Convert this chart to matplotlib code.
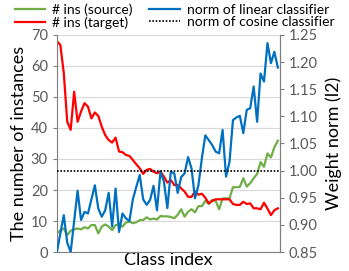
import numpy as np
import matplotlib.pyplot as plt

# per-class counts (left axis) and classifier norms (right axis)
ins_source = [6.0, 7.0, 7.6, 5.5, 6.9, 7.3, 7.6, 7.3, 8.0, 7.6, 8.7, 8.7, 6.0, 8.2, 8.9, 8.2,
              7.1, 8.7, 8.9, 8.2, 9.5, 9.8, 9.3, 9.6, 10.3, 10.3, 11.2, 10.5, 10.8, 10.5, 11.6,
              11.5, 11.5, 11.3, 10.9, 12.0, 13.8, 11.4, 13.0, 13.8, 12.8, 14.8, 14.8, 16.5, 15.5,
              16.8, 16.5, 13.8, 17.3, 17.3, 17.3, 20.9, 20.9, 21.0, 23.8, 21.1, 22.2, 23.8, 25.2,
              29.0, 27.5, 31.8, 30.5, 33.8, 35.9]
ins_target = [68, 66.8, 57.7, 42, 39.4, 51.7, 42, 45.3, 48, 46.9, 43.1, 45, 43.9, 40.4, 37.7,
              36.1, 35.3, 36.9, 32.4, 32.2, 31.3, 31, 29.7, 28.3, 27, 25.2, 26.5, 26.8, 25.9,
              25.4, 26, 24.3, 22.4, 23.2, 21.6, 21.6, 20.5, 19.5, 17.8, 17.8, 19.5, 18.5, 18.8,
              17.5, 15.7, 16.5, 17, 17, 17, 17, 17, 15.5, 15.2, 15.2, 16.2, 15.5, 15.7, 14.1,
              14.1, 13.8, 15.9, 14, 11.9, 13.5, 14.1]
norm_linear = [0.850, 0.884, 0.918, 0.867, 0.850, 0.907, 0.963, 0.909, 0.924, 0.921, 0.947,
               0.973, 0.930, 0.915, 0.927, 0.959, 0.897, 0.967, 0.887, 0.921, 0.912, 0.907,
               0.947, 0.970, 0.992, 0.947, 0.937, 0.946, 0.972, 0.927, 0.998, 0.980, 0.931,
               0.998, 0.995, 0.959, 0.988, 0.995, 1.025, 1.004, 0.949, 0.973, 1.023, 1.065,
               1.056, 1.047, 1.035, 1.032, 1.075, 0.989, 1.016, 1.093, 1.098, 1.101, 1.069,
               1.112, 1.115, 1.155, 1.090, 1.179, 1.164, 1.235, 1.198, 1.219, 1.190]
norm_cosine = 1.0

class_idx = np.arange(len(ins_source))

plt.rcParams['font.family'] = ['Lato', 'DejaVu Sans']

fig = plt.figure(figsize=(3.49, 2.71), dpi=100)
ax = fig.add_axes([0.163, 0.07, 0.639, 0.801])
ax2 = ax.twinx()

grey = '#595959'
l1, = ax.plot(class_idx, ins_source, color='#70AD47', lw=1.6, label='# ins (source)')
l2, = ax.plot(class_idx, ins_target, color='#FF0000', lw=1.6, label='# ins (target)')
l3, = ax2.plot(class_idx, norm_linear, color='#0070C0', lw=1.6, label='norm of linear classifier')
l4 = ax2.axhline(norm_cosine, color='black', lw=1.2, ls=(0, (1, 1)), label='norm of cosine classifier')

ax.set_xlim(0, len(class_idx) - 0.4)
ax.set_ylim(0, 70)
ax.set_yticks(range(0, 71, 10))
ax2.set_ylim(0.85, 1.25)
ax2.set_yticks(np.arange(0.85, 1.2501, 0.05))
ax2.set_yticklabels([f'{v:.2f}' for v in np.arange(0.85, 1.2501, 0.05)])

ax.grid(axis='y', color='#D9D9D9', lw=0.8)
ax.set_axisbelow(True)
ax.set_xticks([])
for a in (ax, ax2):
    a.spines['top'].set_visible(False)
    for s in ('left', 'right', 'bottom'):
        a.spines[s].set_color('#7F7F7F')
    a.tick_params(axis='y', colors='#7F7F7F', labelcolor=grey, labelsize=10.5, length=3, width=0.8)
ax2.spines['left'].set_visible(False)
ax2.spines['bottom'].set_visible(False)

ax.set_xlabel('Class index', fontsize=13, labelpad=0)
ax.set_ylabel('The number of instances', fontsize=13, labelpad=3)
ax2.set_ylabel('Weight norm (l2)', fontsize=13, labelpad=5)

fig.legend(handles=[l1, l2, l3, l4], loc='upper center', bbox_to_anchor=(0.5, 1.035),
           ncol=2, frameon=False, fontsize=10, handlelength=2.2, handletextpad=0.5,
           columnspacing=1.2, labelspacing=0.05)

fig.savefig('out.png', dpi=100)
